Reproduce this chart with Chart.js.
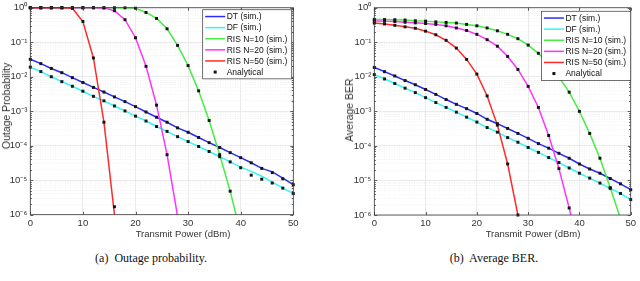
<!DOCTYPE html>
<html>
<head>
<meta charset="utf-8">
<script src="https://cdn.jsdelivr.net/npm/chart.js@4.4.1/dist/chart.umd.min.js"></script>
<style>
  body { margin: 0; background: #fff; width: 640px; height: 281px; position: relative; overflow: hidden; font-family: 'Liberation Sans', Arial, sans-serif; }
  .plot { position: absolute; top: 0; width: 320px; height: 240px; }
  .lbl { position: absolute; transform: translate(-50%, -50%); white-space: pre; color: #333; }
  .xl { font-size: 9.5px; }
  .yl { font-size: 10.5px; transform: translate(-50%, -50%) rotate(-90deg); }
  .cap { font-family: 'Liberation Serif', 'Times New Roman', serif; font-size: 12px; color: #111; }
</style>
</head>
<body>
<div class="plot" style="left:0"><canvas id="outage" width="320" height="240"></canvas></div>
<div class="plot" style="left:320px"><canvas id="ber" width="320" height="240"></canvas></div>
<div class="lbl xl" style="left:183px; top:233px">Transmit Power (dBm)</div>
<div class="lbl xl" style="left:533px; top:233px">Transmit Power (dBm)</div>
<div class="lbl yl" style="left:6px; top:106px">Outage Probability</div>
<div class="lbl yl" style="left:349px; top:110px">Average BER</div>
<div class="lbl cap" style="left:151px; top:258px">(a)  Outage probability.</div>
<div class="lbl cap" style="left:494px; top:258px">(b)  Average BER.</div>
<script>
// transmit power (dBm), one point every 2 dB
const txPower = [0, 2, 4, 6, 8, 10, 12, 14, 16, 18, 20, 22, 24, 26, 28, 30, 32, 34, 36, 38, 40, 42, 44, 46, 48, 50];
const xTicks = [0, 10, 20, 30, 40, 50];
const decadeTicks = [1e-6, 1e-5, 1e-4, 1e-3, 1e-2, 1e-1, 1];

const seriesNames = ['DT (sim.)', 'DF (sim.)', 'RIS N=10 (sim.)', 'RIS N=20 (sim.)', 'RIS N=50 (sim.)'];
const analyticalName = 'Analytical';
const lineColors = ['#2b2bff', '#33f5f5', '#44ee44', '#ff33ff', '#ff2b2b'];

// (a) outage probability
const outDTSim  = [0.032, 0.024, 0.0174, 0.0131, 0.0094, 0.0068, 0.0049, 0.0036, 0.0026, 0.0019, 0.00136, 0.00095, 0.00067, 0.00048, 0.00033, 0.000245, 0.000173, 0.000123, 8.9e-5, 6.3e-5, 4.5e-5, 3.2e-5, 2.2e-5, 1.75e-5, 1.15e-5, 7.4e-6];
const outDTAna  = [0.032, 0.024, 0.0174, 0.0131, 0.0094, 0.0068, 0.0049, 0.0036, 0.0026, 0.0019, 0.00136, 0.00095, 0.00067, 0.00048, 0.00033, 0.000245, 0.000173, 0.000123, 8.9e-5, 6.3e-5, 4.5e-5, 3.2e-5, 2.2e-5, 1.66e-5, 1.1e-5, 7.4e-6];
const outDFSim  = [0.019, 0.0141, 0.0100, 0.0072, 0.0053, 0.0038, 0.0027, 0.0020, 0.00142, 0.00102, 0.00072, 0.00052, 0.00036, 0.00026, 0.000183, 0.000132, 9.5e-5, 6.8e-5, 4.8e-5, 3.4e-5, 2.4e-5, 1.8e-5, 1.3e-5, 8.8e-6, 6.0e-6, 4.1e-6];
const outDFAna  = [0.019, 0.0141, 0.0100, 0.0072, 0.0053, 0.0038, 0.0027, 0.0020, 0.00142, 0.00102, 0.00072, 0.00052, 0.00036, 0.00026, 0.000183, 0.000132, 9.5e-5, 6.8e-5, 4.8e-5, 3.4e-5, 2.3e-5, 1.4e-5, 1.07e-5, 8.3e-6, 5.9e-6, 4.1e-6];
const outR10Sim = [1, 1, 1, 1, 1, 1, 1, 1, 1, 0.995, 0.97, 0.73, 0.49, 0.245, 0.081, 0.021, 0.0039, 5.4e-4, 5.5e-5, 4.8e-6, 2.8e-7];
const outR10Ana = [1, 1, 1, 1, 1, 1, 1, 1, 1, 0.995, 0.97, 0.73, 0.49, 0.245, 0.081, 0.021, 0.0039, 5.4e-4, 5.5e-5, 4.8e-6];
const outR20Sim = [1, 1, 1, 1, 1, 1, 1, 0.99, 0.82, 0.45, 0.135, 0.020, 0.0015, 5.5e-5, 9e-7];
const outR20Ana = [1, 1, 1, 1, 1, 1, 1, 0.99, 0.82, 0.45, 0.135, 0.020, 0.0015, 5.5e-5];
const outR50Sim = [1, 1, 1, 1, 0.97, 0.40, 0.035, 4.8e-4, 1.0e-6];
const outR50Ana = [1, 1, 1, 1, 0.97, 0.40, 0.035, 4.8e-4, 1.7e-6];

// (b) average BER
const berDTSim  = [0.0187, 0.0141, 0.0106, 0.0078, 0.0059, 0.0043, 0.0031, 0.0022, 0.0016, 0.0012, 8.7e-4, 5.9e-4, 4.4e-4, 3.2e-4, 2.3e-4, 1.66e-4, 1.17e-4, 8.6e-5, 6.1e-5, 4.4e-5, 3.0e-5, 2.15e-5, 1.62e-5, 1.14e-5, 8.0e-6, 5.4e-6];
const berDTAna  = berDTSim.slice();
const berDFSim  = [0.0116, 0.0087, 0.0064, 0.0047, 0.0035, 0.0025, 0.0018, 0.0013, 9.5e-4, 6.8e-4, 4.9e-4, 3.4e-4, 2.5e-4, 1.74e-4, 1.28e-4, 9.0e-5, 6.5e-5, 4.6e-5, 3.3e-5, 2.3e-5, 1.62e-5, 1.17e-5, 8.4e-6, 5.9e-6, 4.2e-6, 2.8e-6];
const berDFAna  = berDFSim.slice();
const berR10Sim = [0.46, 0.455, 0.45, 0.44, 0.42, 0.41, 0.39, 0.375, 0.36, 0.33, 0.30, 0.26, 0.215, 0.17, 0.127, 0.083, 0.048, 0.023, 0.0099, 0.0036, 0.0010, 2.3e-4, 4.4e-5, 6.2e-6, 8e-7];
const berR10Ana = [0.46, 0.455, 0.45, 0.44, 0.42, 0.41, 0.39, 0.375, 0.36, 0.33, 0.30, 0.26, 0.215, 0.17, 0.127, 0.083, 0.048, 0.023, 0.0099, 0.0036, 0.0010, 2.3e-4, 4.4e-5, 6.2e-6];
const berR20Sim = [0.415, 0.41, 0.40, 0.38, 0.365, 0.35, 0.33, 0.30, 0.26, 0.22, 0.17, 0.119, 0.077, 0.039, 0.0164, 0.0053, 0.0013, 2.0e-4, 2.2e-5, 1.6e-6, 8e-8];
const berR20Ana = [0.415, 0.41, 0.40, 0.38, 0.365, 0.35, 0.33, 0.30, 0.26, 0.22, 0.17, 0.119, 0.077, 0.039, 0.0164, 0.0053, 0.0013, 2.0e-4, 2.2e-5, 1.6e-6];
const berR50Sim = [0.36, 0.34, 0.31, 0.28, 0.255, 0.21, 0.165, 0.114, 0.068, 0.032, 0.012, 0.0028, 4.0e-4, 3.0e-5, 1.0e-6];
const berR50Ana = berR50Sim.slice();

const superDigits = { '-': '\u207B', '0': '\u2070', '1': '\u00B9', '2': '\u00B2', '3': '\u00B3', '4': '\u2074', '5': '\u2075', '6': '\u2076', '7': '\u2077', '8': '\u2078', '9': '\u2079' };

function isDecade(v) {
    const e = Math.log10(v);
    return Math.abs(e - Math.round(e)) < 1e-6;
}

function decadeLabel(v) {
    if (!isDecade(v)) return '';
    const e = String(Math.round(Math.log10(v)));
    return '10' + e.split('').map(c => superDigits[c]).join('');
}

// decades plus the 2..9 minor lines between them
function logGridValues() {
    const vals = [];
    decadeTicks.forEach((d, i) => {
        vals.push(d);
        if (i < decadeTicks.length - 1) {
            for (let m = 2; m <= 9; m++) vals.push(d * m);
        }
    });
    return vals;
}

function points(ys) {
    return txPower.map((x, k) => ({ x: x, y: ys[k] === undefined ? null : ys[k] }));
}

function makeDatasets(sims, anas) {
    const sets = [];
    sims.forEach((ys, i) => {
        sets.push({
            label: seriesNames[i],
            data: points(ys),
            borderColor: lineColors[i],
            backgroundColor: lineColors[i],
            borderWidth: 1.5,
            pointRadius: 0,
            tension: 0,
            order: sims.length - i,
            clip: { left: 2, top: 2, right: 2, bottom: 0 },
            inLegend: true
        });
    });
    anas.forEach((ys, i) => {
        sets.push({
            label: analyticalName,
            data: points(ys),
            showLine: false,
            pointStyle: 'rect',
            pointRadius: 2.1,
            pointBorderWidth: 0,
            backgroundColor: '#141414',
            borderColor: '#141414',
            order: 0,
            clip: false,
            inLegend: i === 0
        });
    });
    return sets;
}

const matlabFrame = {
    id: 'matlabFrame',
    afterDraw(chart, args, opts) {
        const ctx = chart.ctx;
        const a = chart.chartArea;
        const sx = chart.scales.x, sy = chart.scales.y;
        ctx.save();
        ctx.strokeStyle = '#3a3a3a';
        ctx.lineWidth = 0.8;
        ctx.beginPath();
        sx.ticks.forEach(t => {
            const px = Math.round(sx.getPixelForValue(t.value)) + 0.5;
            ctx.moveTo(px, a.bottom); ctx.lineTo(px, a.bottom - 3);
            ctx.moveTo(px, a.top); ctx.lineTo(px, a.top + 3);
        });
        sy.ticks.forEach(t => {
            const py = Math.round(sy.getPixelForValue(t.value)) + 0.5;
            const len = isDecade(t.value) ? 3 : 1.6;
            ctx.moveTo(a.left, py); ctx.lineTo(a.left + len, py);
            ctx.moveTo(a.right, py); ctx.lineTo(a.right - len, py);
        });
        ctx.stroke();
        ctx.strokeRect(a.left, a.top, a.right - a.left, a.bottom - a.top);

        // legend box inside the axes, top right
        const items = chart.data.datasets.filter(d => d.inLegend);
        const bx = a.right - opts.right - opts.width;
        const by = a.top + opts.top;
        const bh = opts.pad * 2 + (items.length - 1) * opts.step;
        ctx.fillStyle = '#fff';
        ctx.fillRect(bx, by, opts.width, bh);
        ctx.lineWidth = 0.7;
        ctx.strokeStyle = '#333';
        ctx.strokeRect(bx, by, opts.width, bh);
        ctx.font = '8.5px "Liberation Sans", Arial, sans-serif';
        ctx.textBaseline = 'middle';
        items.forEach((d, i) => {
            const y = by + opts.pad + i * opts.step;
            if (d.showLine === false) {
                ctx.fillStyle = d.backgroundColor;
                ctx.fillRect(bx + 11, y - 1.5, 3, 3);
            } else {
                ctx.strokeStyle = d.borderColor;
                ctx.lineWidth = 1.5;
                ctx.beginPath();
                ctx.moveTo(bx + 2.5, y);
                ctx.lineTo(bx + 22.5, y);
                ctx.stroke();
            }
            ctx.fillStyle = '#111';
            ctx.fillText(d.label, bx + 24, y + 0.5);
        });
        ctx.restore();
    }
};

function makeChart(id, sims, anas, box) {
    const tickFont = { family: "'Liberation Sans', Arial, sans-serif", size: 9.5, lineHeight: 1 };
    return new Chart(document.getElementById(id), {
        type: 'line',
        data: { datasets: makeDatasets(sims, anas) },
        plugins: [matlabFrame],
        options: {
            responsive: false,
            animation: false,
            layout: { padding: { left: 0, top: box.top, right: box.right, bottom: 0 } },
            plugins: {
                legend: { display: false },
                tooltip: { enabled: false },
                matlabFrame: box.legend
            },
            scales: {
                x: {
                    type: 'linear',
                    min: 0,
                    max: 50,
                    afterFit: s => { s.height = box.xAxisHeight; },
                    afterBuildTicks: s => { s.ticks = xTicks.map(v => ({ value: v })); },
                    ticks: { padding: 4, maxRotation: 0, color: '#333', font: tickFont },
                    grid: { drawTicks: false, color: '#e4e4e4', lineWidth: 0.8 },
                    border: { display: false }
                },
                y: {
                    type: 'logarithmic',
                    min: 1e-6,
                    max: 1,
                    afterFit: s => { s.width = box.yAxisWidth; },
                    afterBuildTicks: s => { s.ticks = logGridValues().map(v => ({ value: v })); },
                    ticks: { autoSkip: false, padding: 3, color: '#333', font: tickFont, callback: v => decadeLabel(v) },
                    grid: {
                        drawTicks: false,
                        lineWidth: 0.8,
                        color: c => isDecade(c.tick.value) ? '#e4e4e4' : '#efefef'
                    },
                    border: { display: false, dash: c => isDecade(c.tick.value) ? [] : [1, 1.5] }
                }
            }
        }
    });
}

makeChart('outage',
    [outDTSim, outDFSim, outR10Sim, outR20Sim, outR50Sim],
    [outDTAna, outDFAna, outR10Ana, outR20Ana, outR50Ana],
    { top: 5.3, right: 26.7, xAxisHeight: 25.3, yAxisWidth: 30.3,
      legend: { right: 1.6, top: 2, width: 89, pad: 6.8, step: 11.1 } });

makeChart('ber',
    [berDTSim, berDFSim, berR10Sim, berR20Sim, berR50Sim],
    [berDTAna, berDFAna, berR10Ana, berR20Ana, berR50Ana],
    { top: 5.5, right: 5, xAxisHeight: 25, yAxisWidth: 54.3,
      legend: { right: 0, top: 3.5, width: 89.3, pad: 6.8, step: 11.1 } });
</script>
</body>
</html>
